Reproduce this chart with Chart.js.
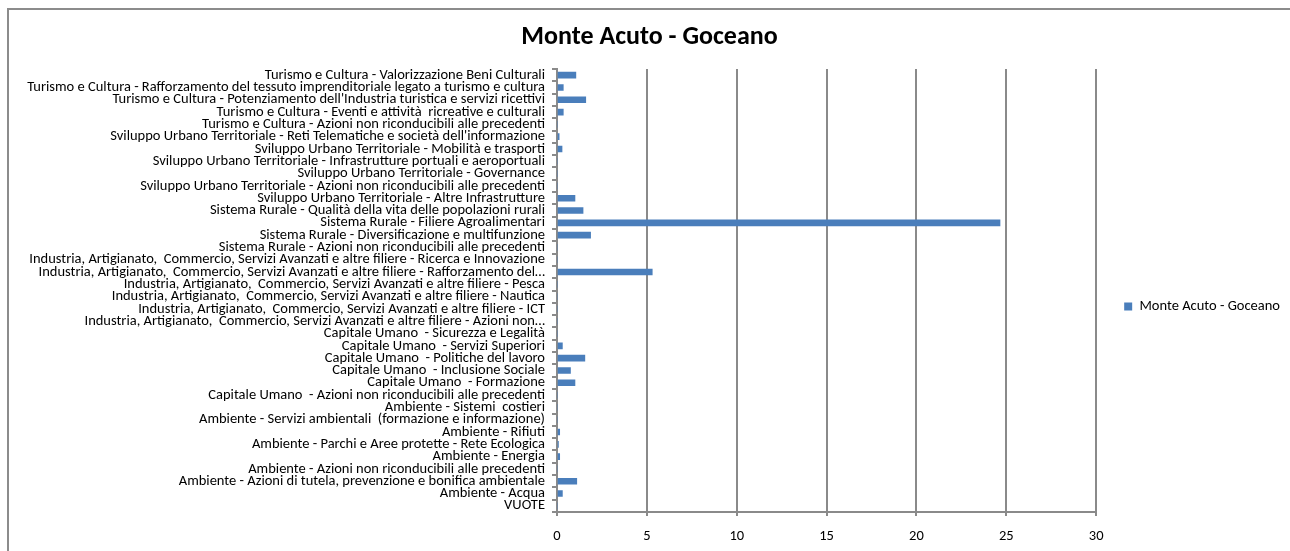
<!DOCTYPE html>
<html>
<head>
<meta charset="utf-8">
<script src="https://cdn.jsdelivr.net/npm/chart.js@4.4.1/dist/chart.umd.min.js"></script>
<style>
  html, body { margin: 0; padding: 0; background: #fff; overflow: hidden; }
  #wrap { position: relative; width: 1290px; height: 551px; }
  #frame { position: absolute; left: 7px; top: 8px; width: 1400px; height: 700px; border: 2px solid #8c8c8c; box-sizing: border-box; }
  canvas { position: absolute; left: 0; top: 0; }
</style>
</head>
<body>
<div id="wrap">
  <div id="frame"></div>
  <canvas id="c" width="1290" height="551"></canvas>
</div>
<script>
const chartTitle = "Monte Acuto - Goceano";
const seriesName = "Monte Acuto - Goceano";

const categories = [
  "Turismo e Cultura - Valorizzazione Beni Culturali",
  "Turismo e Cultura - Rafforzamento del tessuto imprenditoriale legato a turismo e cultura",
  "Turismo e Cultura - Potenziamento dell'Industria turistica e servizi ricettivi",
  "Turismo e Cultura - Eventi e attività  ricreative e culturali",
  "Turismo e Cultura - Azioni non riconducibili alle precedenti",
  "Sviluppo Urbano Territoriale - Reti Telematiche e società dell'informazione",
  "Sviluppo Urbano Territoriale - Mobilità e trasporti",
  "Sviluppo Urbano Territoriale - Infrastrutture portuali e aeroportuali",
  "Sviluppo Urbano Territoriale - Governance",
  "Sviluppo Urbano Territoriale - Azioni non riconducibili alle precedenti",
  "Sviluppo Urbano Territoriale - Altre Infrastrutture",
  "Sistema Rurale - Qualità della vita delle popolazioni rurali",
  "Sistema Rurale - Filiere Agroalimentari",
  "Sistema Rurale - Diversificazione e multifunzione",
  "Sistema Rurale - Azioni non riconducibili alle precedenti",
  "Industria, Artigianato,  Commercio, Servizi Avanzati e altre filiere - Ricerca e Innovazione",
  "Industria, Artigianato,  Commercio, Servizi Avanzati e altre filiere - Rafforzamento del…",
  "Industria, Artigianato,  Commercio, Servizi Avanzati e altre filiere - Pesca",
  "Industria, Artigianato,  Commercio, Servizi Avanzati e altre filiere - Nautica",
  "Industria, Artigianato,  Commercio, Servizi Avanzati e altre filiere - ICT",
  "Industria, Artigianato,  Commercio, Servizi Avanzati e altre filiere - Azioni non…",
  "Capitale Umano  - Sicurezza e Legalità",
  "Capitale Umano  - Servizi Superiori",
  "Capitale Umano  - Politiche del lavoro",
  "Capitale Umano  - Inclusione Sociale",
  "Capitale Umano  - Formazione",
  "Capitale Umano  - Azioni non riconducibili alle precedenti",
  "Ambiente - Sistemi  costieri",
  "Ambiente - Servizi ambientali  (formazione e informazione)",
  "Ambiente - Rifiuti",
  "Ambiente - Parchi e Aree protette - Rete Ecologica",
  "Ambiente - Energia",
  "Ambiente - Azioni non riconducibili alle precedenti",
  "Ambiente - Azioni di tutela, prevenzione e bonifica ambientale",
  "Ambiente - Acqua",
  "VUOTE"
];

const values = [
  1.05, 0.35, 1.6, 0.35, 0,
  0.12, 0.28, 0, 0, 0,
  1.0, 1.45, 24.65, 1.87, 0,
  0, 5.3, 0, 0, 0,
  0, 0, 0.3, 1.55, 0.75,
  1.0, 0, 0, 0, 0.15,
  0.08, 0.15, 0, 1.1, 0.3,
  0
];

const xMin = 0, xMax = 30, xStep = 5;

const FONT = 'Carlito, "Liberation Sans", Arial, sans-serif';
const FS = 14.5;
const gridColor = '#8a8a8a';

new Chart(document.getElementById('c'), {
  type: 'bar',
  data: {
    labels: categories,
    datasets: [{
      label: seriesName,
      data: values,
      backgroundColor: '#4a7ebb',
      borderWidth: 0,
      barThickness: 6
    }]
  },
  options: {
    indexAxis: 'y',
    responsive: false,
    animation: false,
    devicePixelRatio: 1,
    layout: { padding: { left: 9, right: 0, top: 21, bottom: -41 } },
    plugins: {
      title: {
        display: true,
        text: chartTitle,
        color: '#000',
        font: { family: FONT, size: 26, weight: 'bold' },
        padding: { top: 0.4, bottom: 16.4 }
      },
      legend: {
        display: true,
        position: 'right',
        labels: {
          color: '#000',
          font: { family: FONT, size: FS },
          boxWidth: 8,
          boxHeight: 8,
          padding: 28
        }
      },
      tooltip: { enabled: false }
    },
    scales: {
      x: {
        min: xMin,
        max: xMax,
        ticks: { stepSize: xStep, color: '#000', font: { family: FONT, size: FS }, padding: 12 },
        grid: { color: gridColor, lineWidth: 2, drawOnChartArea: true, drawTicks: true, tickLength: 4 },
        border: { display: true, color: gridColor, width: 2 },
        afterFit: (scale) => { scale.height = 80; scale.paddingLeft = 0; scale.paddingRight = 0; }
      },
      y: {
        ticks: { autoSkip: false, color: '#000', font: { family: FONT, size: FS }, padding: 7 },
        grid: { color: gridColor, drawOnChartArea: false, drawTicks: true, tickLength: 5, offset: true, lineWidth: 2 },
        border: { display: true, color: gridColor, width: 2 },
        afterFit: (scale) => { scale.width = 548; scale.paddingTop = 0; scale.paddingBottom = 0; }
      }
    }
  }
});
</script>
</body>
</html>
